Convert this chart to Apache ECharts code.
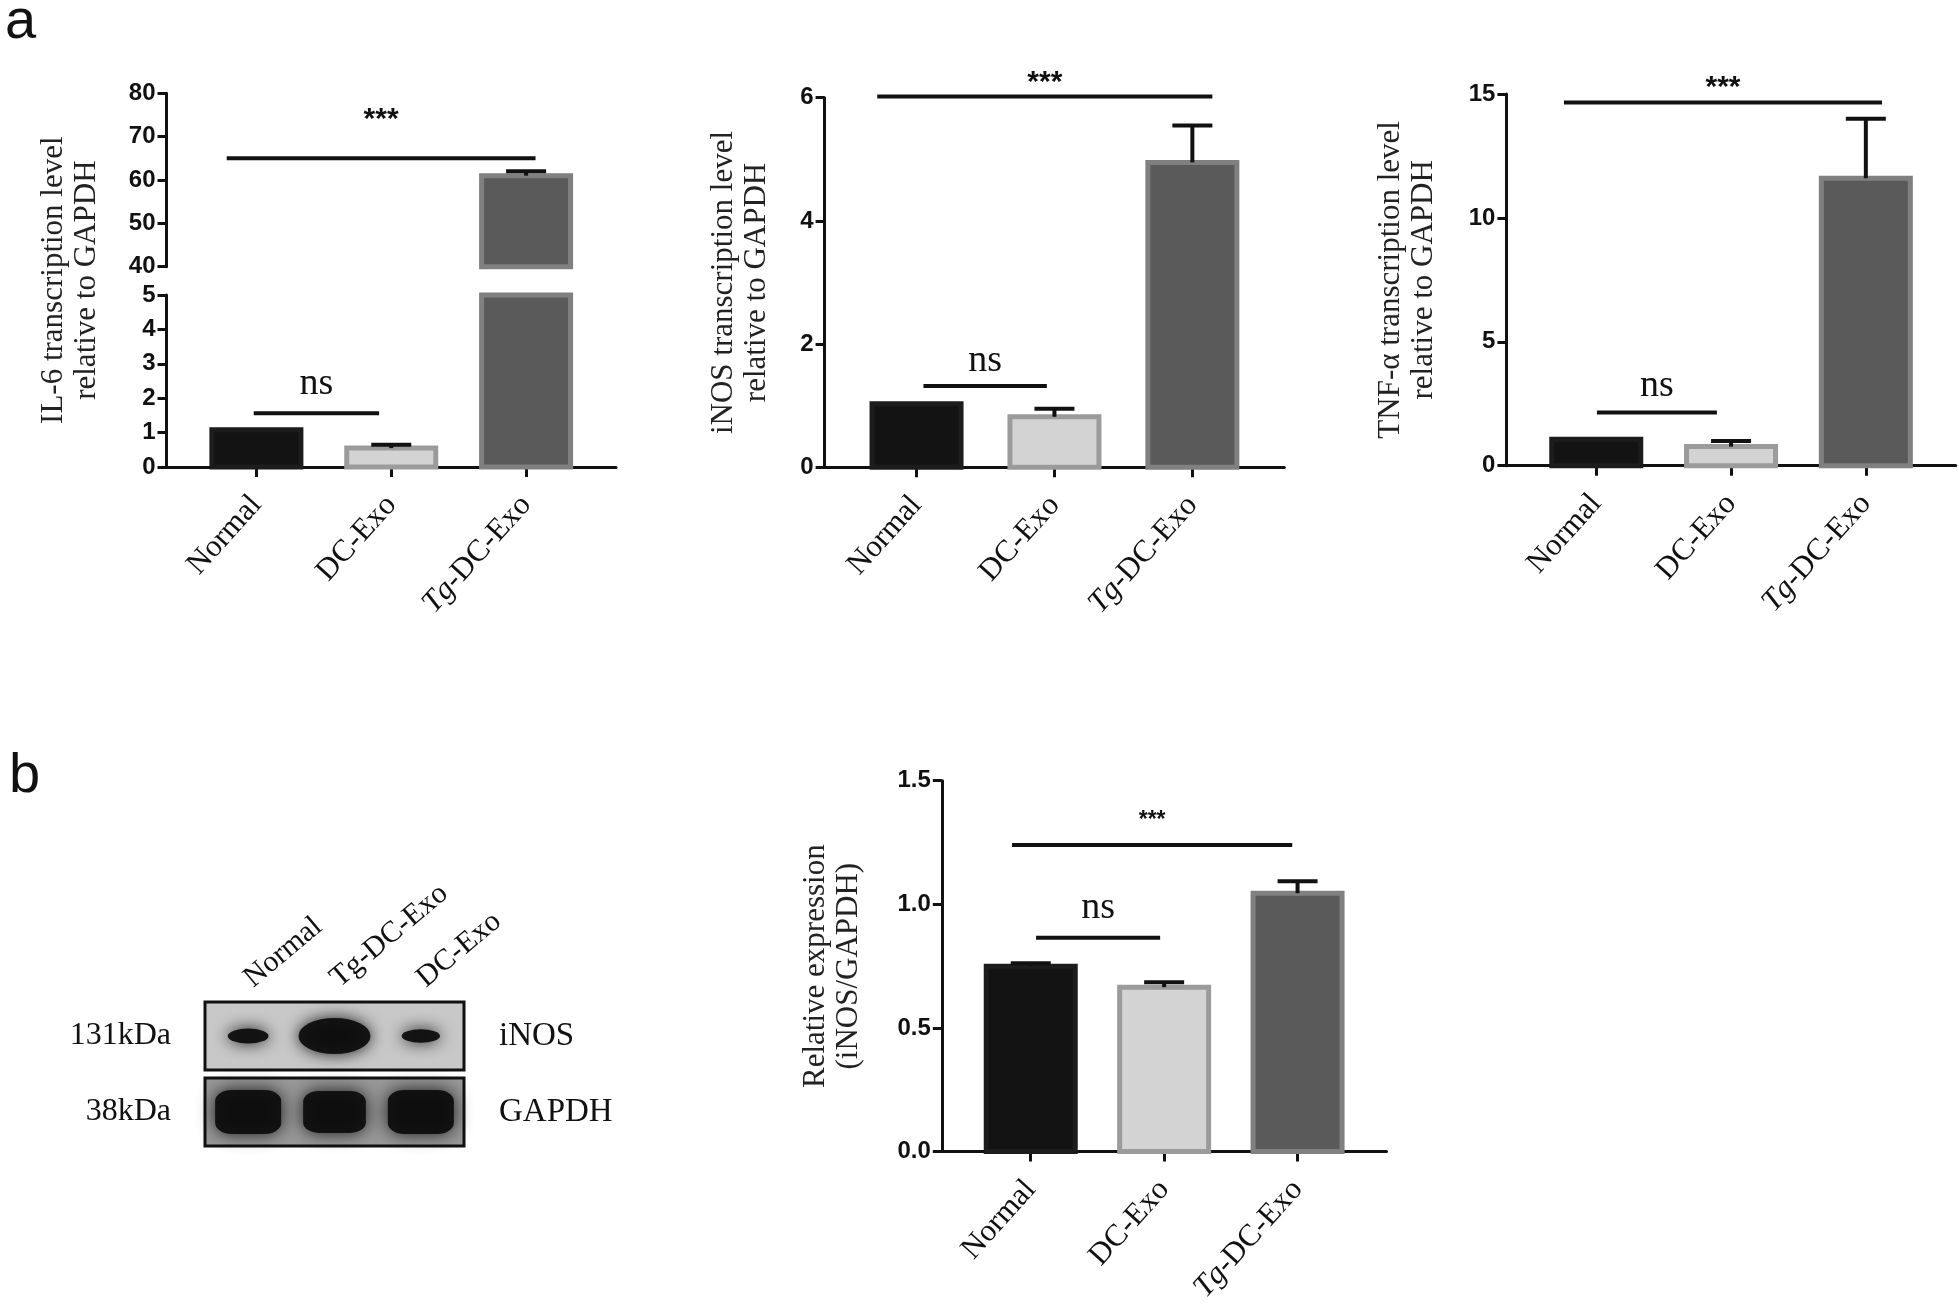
<!DOCTYPE html>
<html>
<head>
<meta charset="utf-8">
<title>Tg-DC-Exo cytokine expression</title>
<script src="https://cdn.jsdelivr.net/npm/echarts@6.0.0/dist/echarts.min.js"></script>
<style>
  html, body { margin: 0; padding: 0; background: #fff; }
  #chart { width: 1959px; height: 1306px; }
</style>
</head>
<body>
<div id="chart"></div>
<script>
// groups on every bar chart
const groups = ['Normal', 'DC-Exo', 'Tg-DC-Exo']
// lane order on the western blot
const blotLanes = ['Normal', 'Tg-DC-Exo', 'DC-Exo']

// qPCR, relative to GAPDH (mean, SEM)
const il6Mean = [1.08, 0.55, 61]
const il6Err = [0, 0.1, 1]
const inosMean = [1.03, 0.82, 4.95]
const inosErr = [0, 0.13, 0.6]
const tnfMean = [1.07, 0.77, 11.6]
const tnfErr = [0, 0.23, 2.4]

// western blot quantification, iNOS/GAPDH
const wbMean = [0.75, 0.665, 1.045]
const wbErr = [0.012, 0.02, 0.048]

// band strength on the blot, lanes in blotLanes order
const inosBand = [0.35, 1, 0.3]
const gapdhBand = [1, 0.95, 1]

// tick labels
const il6UpperTicks = [40, 50, 60, 70, 80]
const il6LowerTicks = [0, 1, 2, 3, 4, 5]
const inosTicks = [0, 2, 4, 6]
const tnfTicks = [0, 5, 10, 15]
const wbTicks = [0, 0.5, 1, 1.5]

// significance bars: from/to in group index, line level and label level in axis units
const il6SigUpper = [{ from: -0.22, to: 2.07, y: 65, ty: 75.5, text: '***' }]
const il6SigLower = [{ from: -0.02, to: 0.91, y: 1.56, ty: 2.27, text: 'ns' }]
const inosSig = [
  { from: -0.285, to: 2.145, y: 6.02, ty: 6.36, text: '***' },
  { from: 0.05, to: 0.945, y: 1.32, ty: 1.65, text: 'ns' },
]
const tnfSig = [
  { from: -0.24, to: 2.12, y: 14.66, ty: 15.53, text: '***' },
  { from: 0.005, to: 0.895, y: 2.15, ty: 3.02, text: 'ns' },
]
const wbSig = [
  { from: -0.14, to: 1.96, y: 1.24, ty: 1.36, text: '***' },
  { from: 0.04, to: 0.97, y: 0.865, ty: 0.968, text: 'ns' },
]

const serif = "'Liberation Serif', 'Times New Roman', Times, serif"
const sans = "'Liberation Sans', Arial, Helvetica, sans-serif"
const ink = '#111'
const fills = ['#131313', '#d3d3d3', '#5a5a5a']
const borders = ['#1c1c1c', '#9b9b9b', '#808080']

const grids = []
const xAxes = []
const yAxes = []
const series = []

const nameStyle = { fontFamily: serif, fontSize: 31, lineHeight: 33, color: '#222' }
const empty = { type: 'group', children: [] }

function groupLabel(v) {
  const name = groups[Math.round(v)]
  if (!name) return ''
  return name.indexOf('Tg') === 0 ? '{i|Tg}' + name.slice(2) : name
}

/**
 * one bar panel (or one half of a broken axis)
 */
function addPlot(cfg) {
  const gi = grids.length
  const xi = xAxes.length
  const yi = yAxes.length
  const ticks = cfg.ticks
  const min = ticks[0]
  const max = ticks[ticks.length - 1]
  grids.push({ left: cfg.left, top: cfg.top, width: cfg.width, height: cfg.height })
  xAxes.push({
    gridIndex: gi,
    type: 'value',
    min: -2 / 3,
    max: 8 / 3,
    show: cfg.showX !== false,
    splitLine: { show: false },
    axisLine: { onZero: false, lineStyle: { color: ink, width: 3 } },
    axisTick: { customValues: [0, 1, 2], length: 10, lineStyle: { color: ink, width: 3 } },
    axisLabel: {
      customValues: [0, 1, 2],
      formatter: groupLabel,
      rotate: 48,
      margin: 33,
      fontFamily: serif,
      fontSize: 31,
      color: ink,
      rich: { i: { fontFamily: serif, fontSize: 31, fontStyle: 'italic', color: ink } },
    },
  })
  yAxes.push({
    gridIndex: gi,
    type: 'value',
    min: min,
    max: max,
    interval: ticks[1] - ticks[0],
    splitLine: { show: false },
    axisLine: { show: true, onZero: false, lineStyle: { color: ink, width: 3 } },
    axisTick: { show: true, length: 9, lineStyle: { color: ink, width: 3 } },
    axisLabel: {
      margin: 11,
      fontFamily: sans,
      fontWeight: 'bold',
      fontSize: 24,
      color: ink,
      formatter: cfg.fmt,
    },
    name: cfg.yName || '',
    nameLocation: 'middle',
    nameRotate: 90,
    nameGap: cfg.nameGap || 60,
    nameTextStyle: nameStyle,
  })
  // bars, cut to the axis range (broken axis)
  series.push({
    type: 'custom',
    xAxisIndex: xi,
    yAxisIndex: yi,
    z: 2,
    clip: false,
    data: cfg.mean.map((v, i) => [i, v]),
    renderItem(params, api) {
      const i = params.dataIndex
      const x = api.value(0)
      const v = api.value(1)
      if (v <= min) return empty
      const top = api.coord([x, Math.min(v, max)])
      const bottom = api.coord([x, Math.max(min, 0)])
      const w = 89
      return {
        type: 'rect',
        shape: { x: top[0] - w / 2, y: top[1], width: w, height: bottom[1] - top[1] },
        style: { fill: fills[i], stroke: borders[i], lineWidth: 5 },
      }
    },
  })
  // upper error bars only, like the original
  series.push({
    type: 'custom',
    xAxisIndex: xi,
    yAxisIndex: yi,
    z: 3,
    clip: false,
    data: cfg.mean.map((v, i) => [i, v, cfg.err[i]]),
    renderItem(params, api) {
      const x = api.value(0)
      const v = api.value(1)
      const e = api.value(2)
      if (!e || v < min || v + e > max) return empty
      const a = api.coord([x, v])
      const b = api.coord([x, v + e])
      const half = 20
      return {
        type: 'group',
        children: [
          { type: 'line', shape: { x1: a[0], y1: a[1], x2: b[0], y2: b[1] }, style: { stroke: ink, lineWidth: 4 } },
          { type: 'line', shape: { x1: b[0] - half, y1: b[1], x2: b[0] + half, y2: b[1] }, style: { stroke: ink, lineWidth: 4 } },
        ],
      }
    },
  })
  if (cfg.sigs && cfg.sigs.length) {
    const starSize = cfg.starSize || 30
    series.push({
      type: 'custom',
      xAxisIndex: xi,
      yAxisIndex: yi,
      z: 4,
      clip: false,
      data: cfg.sigs.map((s) => [s.from, s.y]),
      renderItem(params, api) {
        const s = cfg.sigs[params.dataIndex]
        const a = api.coord([s.from, s.y])
        const b = api.coord([s.to, s.y])
        const t = api.coord([(s.from + s.to) / 2, s.ty])
        const isNs = s.text === 'ns'
        const size = isNs ? 38 : starSize
        const dy = isNs ? -0.12 * size : 0.23 * size
        return {
          type: 'group',
          children: [
            { type: 'line', shape: { x1: a[0], y1: a[1], x2: b[0], y2: b[1] }, style: { stroke: ink, lineWidth: 4 } },
            {
              type: 'text',
              x: t[0],
              y: t[1] + dy,
              style: {
                text: s.text,
                fontFamily: isNs ? serif : sans,
                fontWeight: isNs ? 'normal' : 'bold',
                fontSize: size,
                fill: ink,
                align: 'center',
                verticalAlign: 'middle',
              },
            },
          ],
        }
      },
    })
  }
}

/**
 * an empty grid that only carries a y axis title (for the broken axis)
 */
function addNameOnly(cfg) {
  const gi = grids.length
  grids.push({ left: cfg.left, top: cfg.top, width: cfg.width, height: cfg.height })
  xAxes.push({ gridIndex: gi, type: 'value', show: false, min: 0, max: 1 })
  yAxes.push({
    gridIndex: gi,
    type: 'value',
    min: 0,
    max: 1,
    axisLine: { show: false, onZero: false },
    axisTick: { show: false },
    axisLabel: { show: false },
    splitLine: { show: false },
    name: cfg.yName,
    nameLocation: 'middle',
    nameRotate: 90,
    nameGap: cfg.nameGap,
    nameTextStyle: nameStyle,
  })
}

/**
 * one row of the western blot
 */
function addBlotRow(cfg) {
  const gi = grids.length
  const xi = xAxes.length
  const yi = yAxes.length
  grids.push({
    left: 205,
    top: cfg.top,
    width: 259,
    height: 68,
    show: true,
    backgroundColor: cfg.bg,
    borderColor: ink,
    borderWidth: 3,
  })
  xAxes.push({
    gridIndex: gi,
    type: 'category',
    data: blotLanes,
    position: 'top',
    axisLine: { show: false },
    axisTick: { show: false },
    axisLabel: { show: !!cfg.lanes, rotate: -40, margin: 20, fontFamily: serif, fontSize: 30, color: ink },
  })
  yAxes.push({
    gridIndex: gi,
    type: 'category',
    data: [cfg.weight],
    axisLine: { show: false },
    axisTick: { show: false },
    axisLabel: { margin: 34, fontFamily: serif, fontSize: 32, color: ink },
  })
  yAxes.push({
    gridIndex: gi,
    type: 'category',
    position: 'right',
    data: [cfg.protein],
    axisLine: { show: false },
    axisTick: { show: false },
    axisLabel: { margin: 35, fontFamily: serif, fontSize: 33, color: ink },
  })
  series.push({
    type: 'scatter',
    xAxisIndex: xi,
    yAxisIndex: yi,
    symbol: cfg.symbol,
    symbolSize: cfg.size,
    data: cfg.band.map((v, i) => [i, 0, v]),
    itemStyle: {
      color: '#0e0e0e',
      shadowBlur: cfg.blur,
      shadowColor: 'rgba(10,10,10,0.95)',
      opacity: 0.95,
    },
    silent: true,
  })
}

// ---- a: qPCR panels ----
addPlot({
  left: 166.5, top: 93.3, width: 449.5, height: 173.4,
  ticks: il6UpperTicks, mean: il6Mean, err: il6Err, sigs: il6SigUpper, showX: false,
})
addPlot({
  left: 166.5, top: 295, width: 449.5, height: 172,
  ticks: il6LowerTicks, mean: il6Mean, err: il6Err, sigs: il6SigLower,
})
addNameOnly({
  left: 166.5, top: 93.3, width: 449.5, height: 373.7,
  yName: 'IL-6 transcription level\nrelative to GAPDH', nameGap: 63,
})
addPlot({
  left: 824.6, top: 97.7, width: 459.7, height: 369.6,
  ticks: inosTicks, mean: inosMean, err: inosErr, sigs: inosSig,
  yName: 'iNOS transcription level\nrelative to GAPDH', nameGap: 51,
})
addPlot({
  left: 1506.4, top: 94, width: 449.3, height: 371.7,
  ticks: tnfTicks, mean: tnfMean, err: tnfErr, sigs: tnfSig,
  yName: 'TNF-\u03b1 transcription level\nrelative to GAPDH', nameGap: 66,
})

// ---- b: western blot and its quantification ----
addBlotRow({
  top: 1002, weight: '131kDa', protein: 'iNOS', band: inosBand, lanes: true,
  bg: '#c8c8c8', symbol: 'circle', blur: 16,
  size: (d) => [24 + 48 * d[2], 4 + 32 * d[2]],
})
addBlotRow({
  top: 1078, weight: '38kDa', protein: 'GAPDH', band: gapdhBand,
  bg: '#9a9a9a', symbol: 'roundRect', blur: 18,
  size: (d) => [66 * d[2], 44 * d[2]],
})
addPlot({
  left: 941.8, top: 780.7, width: 444.7, height: 373.6,
  ticks: wbTicks, mean: wbMean, err: wbErr, sigs: wbSig, starSize: 23,
  fmt: (v) => v.toFixed(1),
  yName: 'Relative expression\n(iNOS/GAPDH)', nameGap: 76,
})

const chart = echarts.init(document.getElementById('chart'))
chart.setOption({
  animation: false,
  backgroundColor: '#fff',
  title: [
    { text: 'a', left: 0, top: -10, textStyle: { fontFamily: sans, fontSize: 56, fontWeight: 'normal', color: ink } },
    { text: 'b', left: 4, top: 744, textStyle: { fontFamily: sans, fontSize: 56, fontWeight: 'normal', color: ink } },
  ],
  grid: grids,
  xAxis: xAxes,
  yAxis: yAxes,
  series: series,
})
</script>
</body>
</html>
